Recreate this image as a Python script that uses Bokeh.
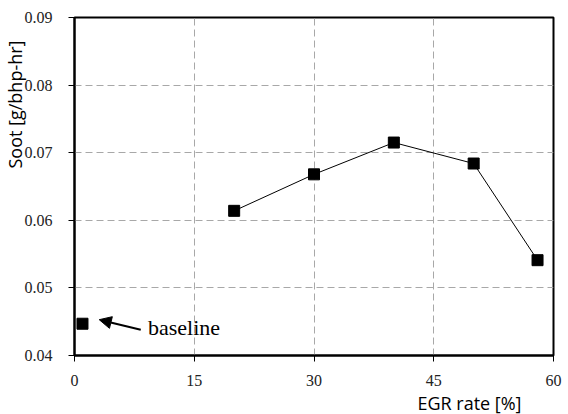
from bokeh.plotting import figure
from bokeh.models import (FixedTicker, Label, Arrow, NormalHead, Range1d,
                          CustomJSTickFormatter, Title)
from bokeh.embed import file_html
from bokeh.resources import INLINE

# Data
egr = [20, 30, 40, 50, 58]
soot = [0.0614, 0.0668, 0.0715, 0.0684, 0.0541]
base_egr = [1]
base_soot = [0.0447]
x_ticks = [0, 15, 30, 45, 60]
y_ticks = [0.04, 0.05, 0.06, 0.07, 0.08, 0.09]
x_title = "EGR rate [%]"
y_title = "Soot [g/bhp-hr]"

p = figure(width=568, height=414, output_backend="svg", toolbar_location=None,
           x_range=Range1d(0, 60), y_range=Range1d(0.04, 0.09),
           min_border_left=74, min_border_right=15, min_border_top=17,
           min_border_bottom=59)
p.background_fill_color = "white"
p.border_fill_color = "white"
p.outline_line_color = "black"
p.outline_line_width = 2

for ax in (p.xaxis[0], p.yaxis[0]):
    ax.axis_line_color = "black"
    ax.axis_line_width = 2
    ax.major_tick_line_color = "black"
    ax.major_tick_line_width = 1
    ax.major_tick_out = 6
    ax.major_tick_in = 0
    ax.minor_tick_line_color = None
    ax.major_label_text_font = "Liberation Serif"
    ax.major_label_text_font_size = "16px"
    ax.major_label_text_color = "#222222"
p.xaxis.major_label_standoff = 13
p.yaxis.major_label_standoff = 16

p.xaxis.ticker = FixedTicker(ticks=x_ticks)
p.yaxis.ticker = FixedTicker(ticks=y_ticks)
p.yaxis.formatter = CustomJSTickFormatter(code="return tick.toFixed(2);")

p.xgrid.ticker = FixedTicker(ticks=x_ticks)
p.ygrid.ticker = FixedTicker(ticks=y_ticks)
for g in (p.xgrid[0], p.ygrid[0]):
    g.grid_line_color = "#a8a8a8"
    g.grid_line_dash = "7 4"
    g.grid_line_width = 1

p.add_layout(Title(text=x_title, align="right", offset=32, standoff=0,
                   text_font="Open Sans", text_font_size="18px",
                   text_font_style="normal", text_color="black"), "below")
p.add_layout(Title(text=y_title, align="right", offset=23, standoff=-10,
                   text_font="Open Sans", text_font_size="18px",
                   text_font_style="normal", text_color="black"), "left")

p.line(egr, soot, line_color="black", line_width=1)
p.scatter(egr, soot, marker="square", size=11, fill_color="black", line_color="black")
p.scatter(base_egr, base_soot, marker="square", size=11, fill_color="black", line_color="black")

p.add_layout(Arrow(end=NormalHead(size=12, fill_color="black", line_color="black"),
                   x_start=8.3, y_start=0.0438, x_end=3.1, y_end=0.0453,
                   line_color="black", line_width=2))

p.add_layout(Label(x=9.2, y=0.0442, text="baseline", text_font="Liberation Serif",
                   text_font_size="22px", text_color="black",
                   text_align="left", text_baseline="middle"))

open("out.html", "w").write(file_html(p, INLINE))
